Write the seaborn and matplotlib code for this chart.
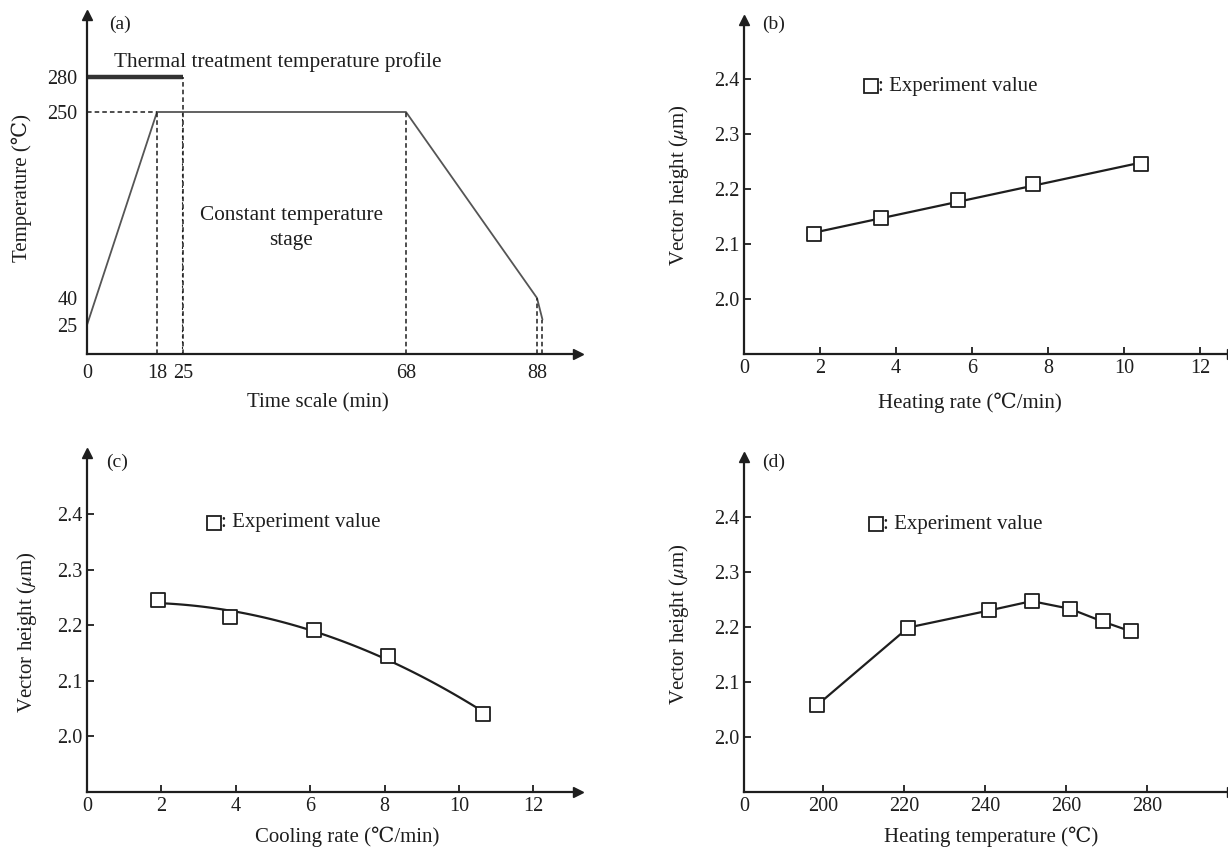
# Thermal treatment profile + vector height vs process parameters (4 panels)
import numpy as np
import pandas as pd
import seaborn as sns
import matplotlib
matplotlib.use("Agg")
from matplotlib import pyplot as plt

# (a) temperature profile
profile_time = [0, 18, 68, 88, 88.4, 88.8]
profile_temp = [25, 250, 250, 40, 34, 28]
time_ticks = [0, 18, 25, 68, 88]
temp_ticks = [25, 40, 250, 280]
treat_temp = 280
treat_end = 25

# (b) heating rate
heat_rate = [1.85, 3.6, 5.63, 7.6, 10.45]
height_b = [2.118, 2.147, 2.181, 2.209, 2.245]

# (c) cooling rate
cool_rate = [1.9, 3.85, 6.1, 8.1, 10.65]
height_c = [2.246, 2.214, 2.192, 2.144, 2.041]

# (d) heating temperature
heat_temp = [198.5, 221, 241, 251.5, 261, 269, 276]
height_d = [2.058, 2.199, 2.230, 2.247, 2.233, 2.210, 2.192]

sns.set_theme(style="ticks")
plt.rcParams['font.family'] = ['Liberation Serif', 'DejaVu Serif']
plt.rcParams['mathtext.fontset'] = 'stix'
INK = '#1e1e1e'
FS = 15

W, H = 1228, 848
fig = plt.figure(figsize=(W / 100, H / 100), dpi=100)


def add_ax(left, right, top, bottom):
    ax = fig.add_axes([left / W, 1 - bottom / H, (right - left) / W, (bottom - top) / H])
    ax.box = (left, right, top, bottom)
    return ax


def frac(ax, px, py):
    left, right, top, bottom = ax.box
    return (px - left) / (right - left), (bottom - py) / (bottom - top)


def style_axes(ax, xlabel, ylabel, xl_pos, yl_pos, tag, tag_pos):
    for s in ['top', 'right']:
        ax.spines[s].set_visible(False)
    for s in ['left', 'bottom']:
        ax.spines[s].set_linewidth(1.6)
        ax.spines[s].set_color(INK)
    ax.plot(1, 0, '>', color=INK, ms=7, transform=ax.transAxes, clip_on=False)
    ax.plot(0, 1, '^', color=INK, ms=7, transform=ax.transAxes, clip_on=False)
    ax.tick_params(direction='in', length=5, width=1.3, colors=INK, labelsize=FS - 0.5)
    ax.set_xlabel(xlabel, fontsize=FS, color=INK)
    ax.set_ylabel(ylabel, fontsize=FS, color=INK)
    ax.xaxis.set_label_coords(*frac(ax, *xl_pos))
    ax.xaxis.label.set_verticalalignment('center')
    ax.yaxis.set_label_coords(*frac(ax, *yl_pos))
    ax.yaxis.label.set_verticalalignment('center')
    fx, fy = frac(ax, *tag_pos)
    ax.text(fx, fy, tag, transform=ax.transAxes, fontsize=FS - 1, color=INK, ha='center', va='center')


def legend_mark(ax, px, py):
    fx, fy = frac(ax, px, py)
    ax.plot(fx, fy, 's', ms=9.5, mfc='white', mec=INK, mew=1.3, transform=ax.transAxes, clip_on=False)
    fx2, _ = frac(ax, px + 7, py)
    ax.text(fx2, fy, ': Experiment value', transform=ax.transAxes, fontsize=FS, color=INK,
            ha='left', va='center')


def exp_points(ax, x, y):
    sns.scatterplot(x=x, y=y, ax=ax, marker='s', s=95, color='white', edgecolor=INK,
                    linewidth=1.3, zorder=3, legend=False)


# ---------------- (a) ----------------
ax_a = add_ax(87, 578, 15, 354)
# schematic axes are not to scale: piecewise mapping of the labelled values
t_map = [0, 18, 25, 68, 88, 94]
t_pos = [0, 70, 96, 319, 450, 491]
T_map = [0, 25, 40, 250, 280, 333]
T_pos = [0, 29, 56, 242, 277, 339]
ax_a.set_xscale('function', functions=(lambda t: np.interp(t, t_map, t_pos),
                                       lambda p: np.interp(p, t_pos, t_map)))
ax_a.set_yscale('function', functions=(lambda v: np.interp(v, T_map, T_pos),
                                       lambda p: np.interp(p, T_pos, T_map)))
ax_a.set_xlim(0, 94)
ax_a.set_ylim(0, 333)

df_a = pd.DataFrame({'time': profile_time, 'temp': profile_temp})
sns.lineplot(data=df_a, x='time', y='temp', ax=ax_a, color='#555555', lw=1.3, sort=False)
ax_a.plot([0, treat_end], [treat_temp, treat_temp], color='#333333', lw=3.2, solid_capstyle='butt')
dash = dict(color=INK, lw=1.1, ls=(0, (3, 2)))
ax_a.plot([0, 18], [250, 250], **dash)
ax_a.plot([18, 18], [0, 250], **dash)
ax_a.plot([treat_end, treat_end], [0, treat_temp], **dash)
ax_a.plot([treat_end - 0.4, treat_end - 0.4], [0, 250], color=INK, lw=0.8, ls=(0, (2, 3)))
ax_a.plot([68, 68], [0, 250], **dash)
ax_a.plot([88, 88], [0, 40], **dash)
ax_a.plot([88.8, 88.8], [0, 28], **dash)

ax_a.set_xticks(time_ticks)
ax_a.set_xticklabels([str(t) for t in time_ticks])
ax_a.set_yticks(temp_ticks)
ax_a.set_yticklabels([str(t) for t in temp_ticks])
style_axes(ax_a, 'Time scale (min)', 'Temperature (℃)', (318, 403), (22, 188), '(a)', (120, 24))
ax_a.tick_params(length=0, pad=7)
fx, fy = frac(ax_a, 278, 62)
ax_a.text(fx, fy, 'Thermal treatment temperature profile', transform=ax_a.transAxes,
          fontsize=15.3, color=INK, ha='center', va='center')
fx, fy = frac(ax_a, 291, 228)
ax_a.text(fx, fy, 'Constant temperature\nstage', transform=ax_a.transAxes,
          fontsize=15.3, color=INK, ha='center', va='center', linespacing=1.4)

yticks_h = [2.0, 2.1, 2.2, 2.3, 2.4]
ylab_h = 'Vector height ($\\mu$m)'

# ---------------- (b) ----------------
ax_b = add_ax(744, 1232, 20, 354)
sns.regplot(x=heat_rate, y=height_b, ax=ax_b, order=1, ci=None, scatter=False, truncate=True,
            line_kws=dict(color=INK, lw=1.6))
exp_points(ax_b, heat_rate, height_b)
ax_b.set_xlim(0, 12.84)
ax_b.set_ylim(1.9, 2.508)
ax_b.set_xticks([0, 2, 4, 6, 8, 10, 12])
ax_b.set_yticks(yticks_h)
ax_b.set_yticklabels([f'{v:.1f}' for v in yticks_h])
style_axes(ax_b, 'Heating rate (℃/min)', ylab_h, (970, 403), (679, 185), '(b)', (774, 24))
legend_mark(ax_b, 871, 86)

# ---------------- (c) ----------------
ax_c = add_ax(87, 578, 453, 792)
sns.regplot(x=cool_rate, y=height_c, ax=ax_c, order=2, ci=None, scatter=False, truncate=True,
            line_kws=dict(color=INK, lw=1.6))
exp_points(ax_c, cool_rate, height_c)
ax_c.set_xlim(0, 13.2)
ax_c.set_ylim(1.9, 2.51)
ax_c.set_xticks([0, 2, 4, 6, 8, 10, 12])
ax_c.set_yticks(yticks_h)
ax_c.set_yticklabels([f'{v:.1f}' for v in yticks_h])
style_axes(ax_c, 'Cooling rate (℃/min)', ylab_h, (347, 837), (27, 632), '(c)', (117, 462))
legend_mark(ax_c, 214, 523)

# ---------------- (d) ----------------
ax_d = add_ax(744, 1232, 457, 792)
sns.lineplot(x=heat_temp, y=height_d, ax=ax_d, color=INK, lw=1.6)
exp_points(ax_d, heat_temp, height_d)
ax_d.set_xlim(180.4, 301)
ax_d.set_ylim(1.9, 2.509)
ax_d.set_xticks([180.4, 200, 220, 240, 260, 280])
ax_d.set_xticklabels(['0', '200', '220', '240', '260', '280'])
ax_d.set_yticks(yticks_h)
ax_d.set_yticklabels([f'{v:.1f}' for v in yticks_h])
style_axes(ax_d, 'Heating temperature (℃)', ylab_h, (991, 837), (679, 624), '(d)', (774, 462))
legend_mark(ax_d, 876, 524)

plt.savefig('out.png', dpi=100)
